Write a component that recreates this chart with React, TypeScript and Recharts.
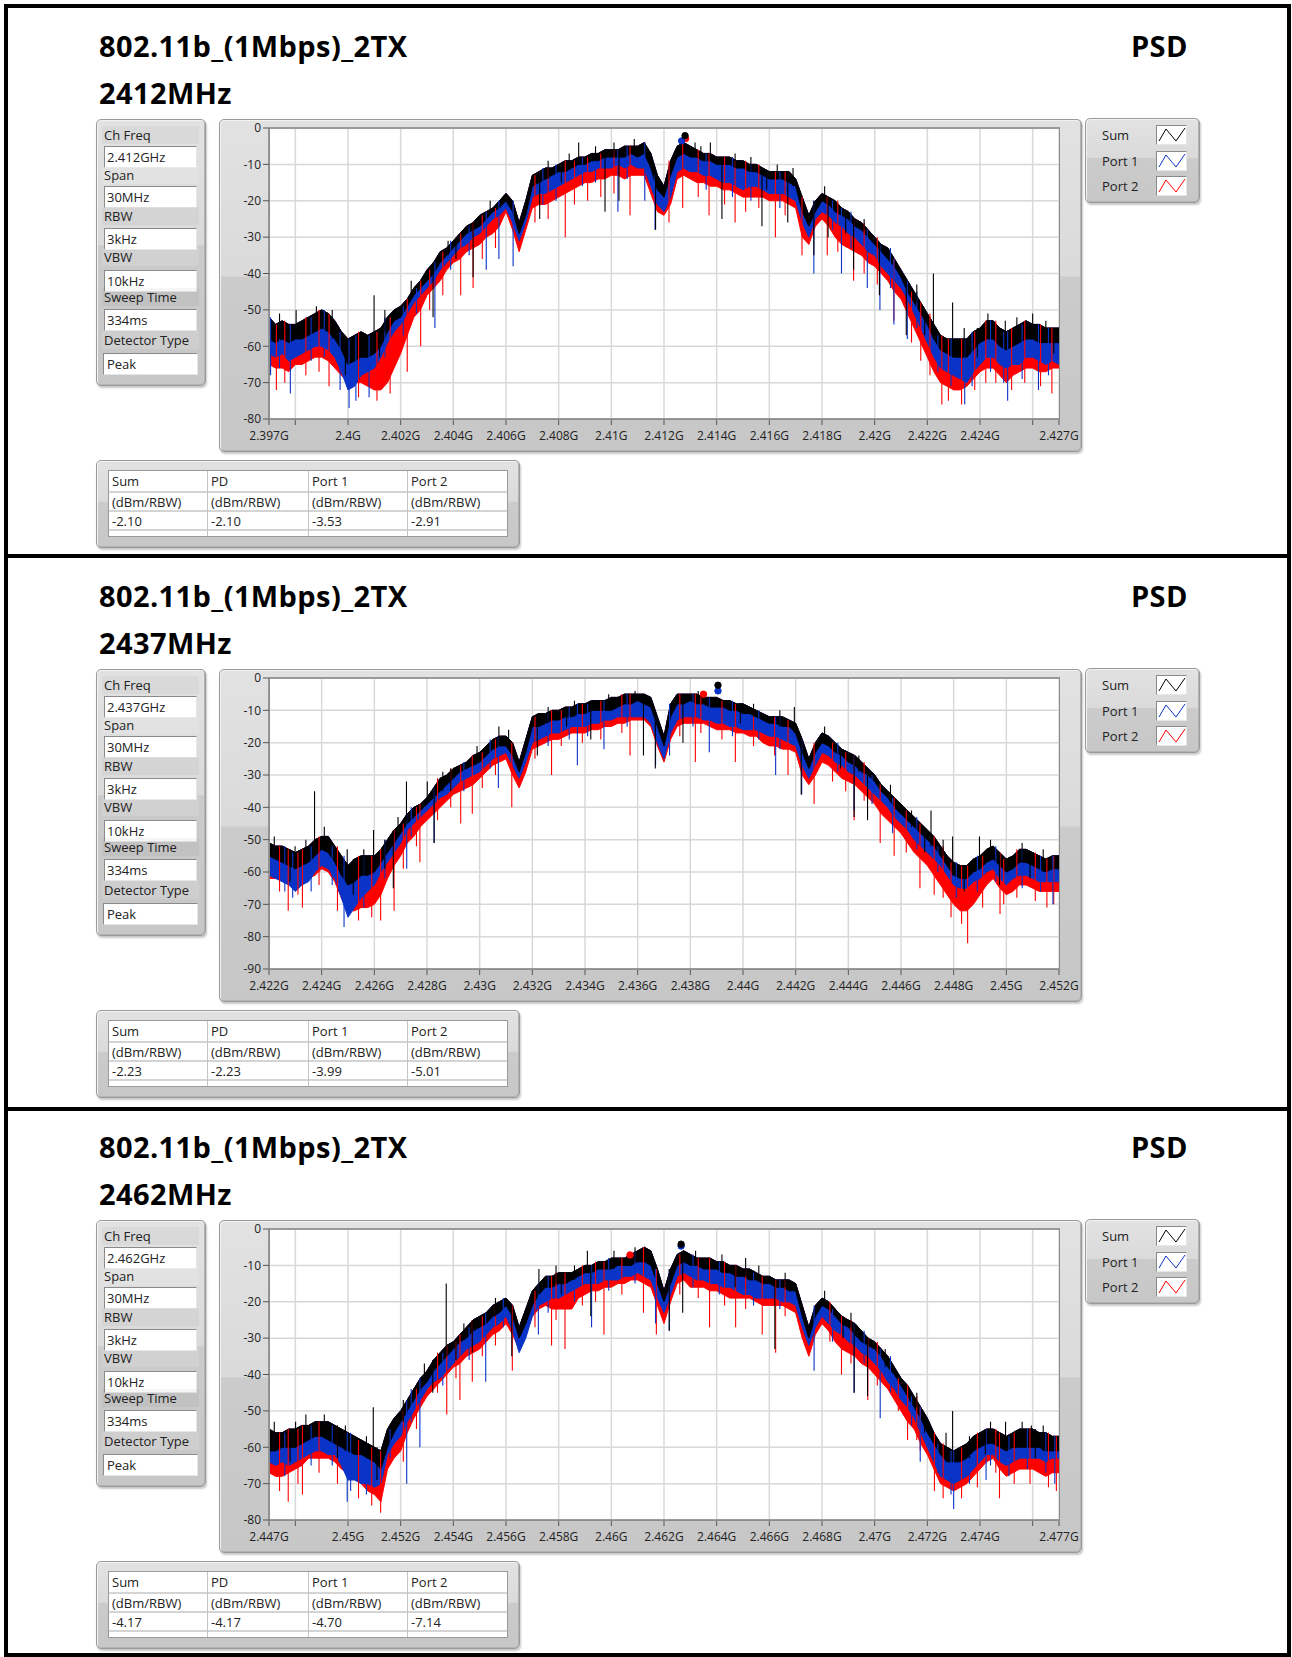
import React from 'react';
import { ComposedChart, Area, Line, XAxis, YAxis, CartesianGrid } from 'recharts';

const FONT = "'Open Sans', 'Noto Sans', 'DejaVu Sans', sans-serif";
const SUM_COLOR = '#000000';
const PORT1_COLOR = '#0a34c8';
const PORT2_COLOR = '#ff0000';

// sweep grid, MHz away from the channel centre
const OFFSET_MHZ = [
  -15, -14.75, -14.5, -14.25, -14, -13.75, -13.5, -13.25, -13, -12.75,
  -12.5, -12.25, -12, -11.75, -11.5, -11.25, -11, -10.75, -10.5, -10.25,
  -10, -9.75, -9.5, -9.25, -9, -8.75, -8.5, -8.25, -8, -7.75,
  -7.5, -7.25, -7, -6.75, -6.5, -6.25, -6, -5.75, -5.5, -5.25,
  -5, -4.75, -4.5, -4.25, -4, -3.75, -3.5, -3.25, -3, -2.75,
  -2.5, -2.25, -2, -1.75, -1.5, -1.25, -1, -0.75, -0.5, -0.25,
  0, 0.25, 0.5, 0.75, 1, 1.25, 1.5, 1.75, 2, 2.25,
  2.5, 2.75, 3, 3.25, 3.5, 3.75, 4, 4.25, 4.5, 4.75,
  5, 5.25, 5.5, 5.75, 6, 6.25, 6.5, 6.75, 7, 7.25,
  7.5, 7.75, 8, 8.25, 8.5, 8.75, 9, 9.25, 9.5, 9.75,
  10, 10.25, 10.5, 10.75, 11, 11.25, 11.5, 11.75, 12, 12.25,
  12.5, 12.75, 13, 13.25, 13.5, 13.75, 14, 14.25, 14.5, 14.75,
  15,
];

// ---- 2412 MHz (dBm/RBW): top / bottom of the Sum trace, bottom of Port 1 and Port 2
const SUM_HI_2412 = [
  -52, -54, -53, -54, -54, -53, -52, -51, -50, -51,
  -53, -56, -58, -57, -56, -57, -56, -55, -52, -50,
  -49, -47, -44, -42, -39, -37, -34, -33, -31, -29,
  -27, -26, -24, -23, -22, -20, -18, -20, -26, -20,
  -13, -12, -11, -11, -10, -9, -9, -8, -8, -7,
  -7, -6, -6, -6, -5, -5, -5, -4, -7, -13,
  -16, -9, -5, -4, -5, -6, -7, -7, -8, -8,
  -8, -9, -9, -10, -10, -11, -12, -12, -12, -12,
  -14, -19, -24, -20, -18, -19, -20, -22, -23, -25,
  -26, -28, -30, -32, -33, -36, -39, -42, -45, -48,
  -51, -54, -57, -58, -58, -58, -58, -56, -55, -53,
  -53, -55, -56, -55, -54, -53, -54, -54, -55, -55,
  -55,
];
const SUM_LO_2412 = [
  -58, -59, -58, -59, -58, -58, -57, -56, -55, -56,
  -58, -61, -65, -64, -63, -63, -62, -60, -56, -53,
  -52, -49, -46, -44, -42, -40, -37, -35, -33, -31,
  -29, -28, -27, -25, -23, -22, -20, -23, -29, -24,
  -16, -15, -14, -13, -12, -12, -11, -10, -10, -9,
  -9, -8, -8, -8, -8, -7, -8, -7, -11, -17,
  -19, -13, -8, -7, -8, -8, -9, -9, -10, -10,
  -10, -11, -11, -12, -12, -13, -14, -14, -14, -15,
  -16, -23, -27, -23, -20, -21, -23, -24, -25, -27,
  -28, -30, -32, -34, -36, -38, -41, -45, -48, -51,
  -54, -58, -61, -62, -63, -63, -63, -61, -59, -58,
  -58, -60, -61, -60, -59, -58, -58, -59, -59, -59,
  -59,
];
const PORT1_LO_2412 = [
  -62, -63, -62, -64, -63, -62, -61, -60, -60, -61,
  -63, -67, -72, -71, -68, -67, -66, -63, -59, -56,
  -54, -51, -48, -46, -44, -42, -39, -37, -35, -33,
  -32, -30, -29, -27, -25, -24, -22, -26, -31, -26,
  -19, -18, -18, -17, -16, -15, -14, -13, -12, -12,
  -11, -11, -11, -10, -11, -10, -11, -11, -16, -21,
  -23, -19, -12, -11, -12, -12, -13, -13, -14, -15,
  -15, -16, -17, -16, -16, -17, -18, -18, -18, -19,
  -20, -26, -30, -25, -23, -24, -26, -27, -29, -30,
  -32, -34, -35, -38, -40, -42, -44, -47, -51, -55,
  -59, -63, -66, -67, -68, -69, -70, -67, -65, -63,
  -63, -65, -66, -65, -65, -63, -63, -64, -65, -64,
  -65,
];
const PORT2_LO_2412 = [
  -65, -66, -66, -67, -65, -65, -64, -63, -63, -64,
  -66, -68, -70, -70, -70, -71, -72, -72, -70, -66,
  -62, -57, -52, -50, -46, -44, -42, -39, -37, -36,
  -34, -33, -32, -30, -29, -27, -23, -28, -34, -28,
  -22, -21, -21, -20, -19, -18, -17, -16, -15, -15,
  -14, -14, -13, -13, -14, -13, -13, -13, -18, -23,
  -24, -21, -14, -13, -14, -15, -15, -16, -16, -17,
  -17, -18, -19, -19, -19, -19, -20, -20, -20, -21,
  -22, -30, -32, -27, -25, -27, -30, -32, -33, -34,
  -35, -37, -38, -40, -42, -45, -47, -51, -55, -59,
  -63, -67, -70, -71, -72, -72, -71, -69, -67, -66,
  -66, -68, -70, -68, -67, -66, -66, -67, -67, -66,
  -66,
];
// single-sweep spikes: [MHz offset, tip dBm]
const SUM_SPIKES_2412 = [
  [-13.97, -50], [-11.01, -46], [-8.77, -52], [-7.25, -41], [-4.72, -25], [-3.24, -4],
  [-2.24, -23], [-1.71, -20], [-1.13, -3], [-0.32, -28], [1.18, -4], [1.76, -4],
  [2.2, -25], [3.72, -27], [4.7, -26], [5.69, -35], [6.23, -30], [7.2, -39],
  [8.18, -46], [9.2, -57], [10.23, -40], [10.96, -48], [12.96, -53], [14.0, -51],
  [-14.6, -51], [-13.2, -49], [-12.6, -50], [-10.6, -50], [-9.6, -42], [-8.2, -31],
  [-6.6, -20], [-4.4, -9], [-3.6, -7], [-2.6, -5], [-1.9, -4], [1.4, -5],
  [2.7, -7], [3.3, -8], [4.3, -10], [4.9, -11], [6.1, -16], [7.6, -25],
  [9.6, -43], [11.4, -55], [12.3, -51], [13.4, -52], [14.5, -53],
  [-12.1, -68], [-10.8, -63], [-7.9, -36], [-3.9, -15], [3.9, -17], [6.9, -29],
  [9.9, -57], [11.9, -63], [14.8, -62],
];
const PORT1_SPIKES_2412 = [
  [-14.94, -68], [-14.19, -73], [-11.96, -77], [-11.2, -74], [-8.7, -55], [-6.75, -39],
  [-6.27, -36], [-5.73, -38], [-1.75, -23], [-0.73, -20], [-0.34, -28], [5.69, -40],
  [6.74, -40], [7.72, -44], [8.2, -50], [8.73, -54], [9.24, -58], [11.42, -76],
  [13.05, -75], [14.22, -72],
  [-14.6, -66], [-13.4, -64], [-12.9, -63], [-12.3, -72], [-11.7, -75], [-10.6, -63],
  [-9.9, -57], [-9.4, -51], [-8.1, -39], [-7.4, -35], [-4.6, -21], [-4.1, -20],
  [-3.1, -16], [-2.6, -15], [-1.4, -14], [1.6, -17], [2.6, -19], [3.3, -20],
  [4.4, -22], [6.4, -28], [7.1, -33], [8.6, -44], [9.6, -55], [10.4, -67],
  [10.9, -71], [11.7, -71], [12.4, -67], [12.9, -70], [13.6, -69], [14.6, -68],
];
const PORT2_SPIKES_2412 = [
  [-14.72, -72], [-12.72, -71], [-9.75, -67], [-9.24, -60], [-7.72, -46], [-7.25, -44],
  [-3.75, -30], [-1.29, -24], [0.19, -26], [0.71, -22], [1.71, -24], [2.7, -26],
  [4.23, -30], [5.24, -35], [6.2, -35], [7.2, -42], [8.73, -53], [9.75, -64],
  [10.55, -76], [12.22, -70], [14.73, -73],
  [-14.4, -70], [-13.6, -68], [-13.1, -67], [-11.6, -74], [-10.9, -75], [-10.4, -73],
  [-8.9, -50], [-8.4, -46], [-6.9, -36], [-6.4, -33], [-4.9, -26], [-4.4, -25],
  [-3.4, -21], [-2.9, -20], [-2.4, -19], [-1.9, -18], [1.3, -19], [2.3, -21],
  [3.1, -23], [3.6, -22], [4.6, -24], [6.6, -34], [7.6, -40], [8.1, -43],
  [9.4, -59], [10.1, -68], [10.8, -75], [11.3, -76], [11.8, -72], [12.6, -70],
  [13.2, -72], [13.7, -70], [14.3, -71],
];
// peak markers: Sum, Port 1, Port 2
const PEAKS_2412 = [[0.8, -2.1], [0.67, -3.53], [0.82, -2.91]];
const READINGS_2412 = [-2.1, -2.1, -3.53, -2.91];

// ---- 2437 MHz
const SUM_HI_2437 = [
  -51, -52, -52, -53, -54, -53, -52, -50, -49, -49,
  -52, -55, -58, -56, -55, -55, -55, -53, -50, -47,
  -45, -42, -40, -39, -37, -34, -31, -30, -28, -27,
  -26, -24, -23, -21, -19, -18, -18, -20, -26, -19,
  -12, -11, -11, -10, -10, -9, -9, -8, -8, -7,
  -7, -7, -6, -6, -5, -5, -5, -5, -6, -12,
  -18, -8, -5, -5, -5, -5, -6, -6, -6, -7,
  -7, -8, -8, -9, -10, -11, -12, -12, -12, -13,
  -14, -19, -25, -20, -17, -18, -20, -22, -23, -24,
  -26, -28, -30, -33, -35, -37, -39, -41, -43, -45,
  -47, -49, -52, -55, -57, -58, -58, -56, -55, -53,
  -52, -54, -56, -55, -53, -53, -54, -55, -56, -55,
  -55,
];
const SUM_LO_2437 = [
  -55, -56, -57, -58, -59, -58, -57, -55, -53, -54,
  -57, -61, -64, -63, -61, -61, -60, -57, -54, -51,
  -48, -45, -43, -41, -39, -37, -35, -33, -31, -29,
  -28, -27, -26, -24, -22, -21, -21, -24, -29, -23,
  -15, -15, -14, -13, -13, -12, -12, -11, -11, -10,
  -10, -10, -10, -9, -8, -8, -7, -8, -9, -15,
  -21, -12, -8, -8, -7, -8, -8, -9, -9, -9,
  -10, -10, -11, -11, -12, -13, -14, -14, -15, -15,
  -17, -23, -28, -23, -20, -21, -23, -24, -26, -27,
  -29, -30, -32, -35, -37, -40, -42, -44, -46, -48,
  -50, -52, -55, -58, -61, -62, -62, -60, -59, -57,
  -56, -58, -60, -59, -57, -57, -58, -59, -60, -59,
  -59,
];
const PORT1_LO_2437 = [
  -61, -62, -63, -64, -66, -64, -63, -60, -58, -59,
  -62, -68, -74, -71, -68, -66, -64, -60, -57, -54,
  -51, -47, -45, -43, -41, -39, -37, -36, -34, -32,
  -31, -30, -29, -27, -25, -24, -23, -27, -31, -26,
  -20, -19, -18, -17, -17, -16, -15, -15, -15, -14,
  -14, -13, -13, -12, -12, -12, -12, -12, -14, -20,
  -25, -17, -13, -12, -12, -12, -13, -13, -14, -14,
  -15, -15, -16, -16, -16, -17, -18, -18, -19, -20,
  -21, -27, -31, -27, -23, -24, -26, -27, -29, -30,
  -32, -34, -36, -38, -40, -43, -45, -47, -50, -52,
  -54, -56, -58, -61, -64, -65, -65, -63, -62, -60,
  -59, -62, -64, -62, -61, -61, -62, -63, -63, -63,
  -63,
];
const PORT2_LO_2437 = [
  -62, -62, -62, -63, -64, -63, -62, -61, -59, -60,
  -63, -68, -72, -72, -71, -71, -70, -67, -62, -58,
  -55, -51, -49, -46, -44, -42, -40, -38, -36, -35,
  -34, -33, -31, -29, -27, -26, -25, -30, -34, -29,
  -22, -21, -20, -19, -19, -18, -17, -17, -17, -16,
  -16, -15, -15, -14, -14, -13, -13, -13, -15, -21,
  -26, -19, -15, -14, -14, -14, -14, -15, -16, -16,
  -16, -17, -17, -18, -18, -20, -21, -21, -22, -22,
  -23, -30, -33, -30, -26, -27, -29, -31, -32, -33,
  -35, -37, -39, -42, -44, -46, -48, -51, -54, -56,
  -58, -61, -64, -67, -70, -72, -72, -70, -67, -64,
  -62, -65, -67, -66, -64, -64, -65, -66, -66, -66,
  -66,
];
const SUM_SPIKES_2437 = [
  [-14.01, -52], [-13.27, -35], [-12.03, -53], [-11.03, -47], [-10.28, -65], [-9.78, -32],
  [-8.99, -32], [-8.73, -51], [-6.27, -15], [-4.81, -24], [-2.78, -19], [-0.78, -24],
  [-0.33, -28], [0.72, -20], [4.95, -9], [5.21, -36], [7.22, -43], [7.73, -44],
  [10.14, -41], [10.96, -49], [11.98, -49], [12.74, -64],
  [-14.8, -49], [-13.6, -50], [-12.9, -46], [-11.4, -53], [-10.1, -43], [-8.4, -29],
  [-7.1, -21], [-5.9, -16], [-4.4, -9], [-3.4, -7], [-2.1, -5], [-1.1, -4],
  [1.3, -4], [3.4, -8], [4.4, -10], [6.1, -15], [7.4, -24], [8.6, -33],
  [9.4, -41], [10.6, -50], [12.4, -50], [13.6, -51], [14.4, -53],
  [-14.2, -63], [-11.8, -67], [-10.6, -59], [-8.1, -35], [-3.7, -15], [2.9, -14],
  [6.7, -28], [9.9, -54], [11.4, -66], [13.9, -62],
];
const PORT1_SPIKES_2437 = [
  [-14.1, -68], [-12.15, -77], [-9.77, -59], [-8.73, -51], [-6.29, -34], [-3.29, -27],
  [-2.28, -22], [-0.32, -27], [0.21, -24], [1.72, -23], [4.24, -30], [5.23, -36],
  [7.22, -41], [8.68, -48], [14.77, -70],
  [-14.4, -66], [-13.4, -66], [-12.6, -64], [-11.4, -71], [-10.6, -62], [-9.6, -49],
  [-7.6, -35], [-6.6, -28], [-4.4, -21], [-3.6, -19], [-2.9, -18], [-1.4, -15],
  [1.1, -15], [2.6, -18], [3.6, -19], [4.4, -22], [6.6, -29], [7.9, -39],
  [9.6, -53], [10.4, -60], [11.1, -68], [11.9, -66], [12.6, -63], [13.6, -65],
  [14.3, -66],
];
const PORT2_SPIKES_2437 = [
  [-14.27, -72], [-13.73, -71], [-10.76, -75], [-10.25, -72], [-9.27, -57], [-7.72, -45],
  [-7.28, -42], [-5.78, -40], [-4.27, -30], [-1.29, -24], [1.19, -26], [2.71, -26],
  [4.71, -30], [5.7, -39], [7.22, -44], [8.21, -51], [8.74, -55], [9.72, -65],
  [10.26, -67], [11.53, -82], [12.76, -73], [14.54, -71],
  [-14.6, -66], [-13.9, -67], [-13.1, -64], [-12.4, -72], [-11.6, -75], [-11.1, -74],
  [-9.9, -59], [-9.4, -52], [-8.6, -44], [-8.1, -40], [-6.9, -34], [-6.4, -30],
  [-4.9, -25], [-3.9, -21], [-3.1, -20], [-2.4, -19], [-1.6, -17], [0.6, -18],
  [1.4, -17], [2.2, -19], [3.4, -21], [4.2, -24], [6.4, -32], [6.9, -35],
  [7.6, -38], [9.2, -54], [10.6, -68], [10.9, -74], [11.3, -76], [12.1, -71],
  [12.9, -70], [13.4, -68], [14.1, -69], [14.8, -70],
];
const PEAKS_2437 = [[2.05, -2.23], [2.05, -3.99], [1.5, -5.01]];
const READINGS_2437 = [-2.23, -2.23, -3.99, -5.01];

// ---- 2462 MHz
const SUM_HI_2462 = [
  -55, -56, -56, -55, -55, -54, -54, -53, -53, -53,
  -54, -55, -56, -57, -58, -59, -60, -61, -55, -52,
  -50, -47, -44, -41, -39, -36, -34, -32, -31, -29,
  -27, -25, -24, -23, -21, -20, -19, -21, -27, -22,
  -17, -15, -13, -13, -12, -12, -12, -11, -10, -10,
  -9, -9, -8, -8, -8, -7, -6, -5, -6, -11,
  -17, -11, -7, -6, -7, -8, -8, -8, -9, -9,
  -10, -10, -11, -11, -12, -13, -13, -14, -14, -14,
  -15, -21, -27, -21, -19, -20, -22, -24, -25, -26,
  -28, -30, -31, -33, -35, -38, -41, -43, -46, -49,
  -52, -56, -59, -60, -61, -60, -59, -57, -56, -55,
  -55, -56, -57, -56, -55, -55, -55, -56, -56, -57,
  -57,
];
const SUM_LO_2462 = [
  -61, -61, -60, -60, -60, -59, -58, -57, -57, -58,
  -59, -60, -61, -62, -62, -63, -64, -66, -60, -56,
  -53, -50, -47, -44, -42, -39, -37, -35, -33, -31,
  -30, -28, -27, -26, -24, -23, -21, -24, -30, -26,
  -21, -18, -16, -16, -15, -15, -14, -13, -12, -12,
  -11, -11, -11, -10, -10, -10, -9, -9, -10, -15,
  -20, -15, -10, -9, -10, -10, -11, -11, -11, -12,
  -12, -13, -13, -14, -14, -15, -15, -16, -16, -17,
  -17, -24, -30, -24, -21, -22, -24, -26, -27, -29,
  -31, -32, -33, -35, -38, -40, -43, -46, -49, -52,
  -56, -59, -62, -64, -64, -64, -63, -61, -60, -59,
  -59, -60, -61, -60, -60, -60, -60, -60, -61, -61,
  -61,
];
const PORT1_LO_2462 = [
  -64, -65, -64, -65, -64, -63, -62, -61, -61, -62,
  -62, -65, -69, -69, -70, -70, -71, -70, -62, -59,
  -57, -53, -50, -47, -44, -42, -41, -39, -37, -35,
  -33, -32, -31, -29, -27, -26, -24, -28, -34, -30,
  -24, -21, -20, -19, -19, -18, -17, -16, -15, -15,
  -15, -14, -14, -14, -13, -13, -12, -13, -14, -19,
  -23, -18, -13, -12, -13, -14, -14, -15, -15, -16,
  -16, -17, -18, -18, -19, -19, -19, -19, -20, -20,
  -21, -27, -32, -27, -24, -26, -28, -29, -31, -32,
  -34, -35, -37, -39, -42, -44, -47, -49, -52, -56,
  -60, -64, -68, -69, -70, -69, -68, -66, -64, -62,
  -62, -64, -65, -64, -63, -63, -63, -63, -64, -63,
  -63,
];
const PORT2_LO_2462 = [
  -67, -68, -68, -67, -66, -65, -63, -63, -63, -63,
  -64, -66, -67, -68, -70, -72, -73, -75, -66, -63,
  -61, -56, -52, -49, -46, -44, -42, -40, -38, -37,
  -35, -34, -33, -31, -29, -28, -26, -29, -33, -29,
  -24, -22, -21, -22, -22, -22, -22, -19, -18, -17,
  -17, -16, -16, -15, -15, -14, -14, -15, -16, -21,
  -26, -20, -15, -14, -16, -16, -16, -17, -17, -18,
  -19, -19, -19, -19, -20, -21, -21, -21, -21, -22,
  -23, -30, -35, -29, -26, -28, -31, -33, -34, -35,
  -37, -38, -40, -42, -44, -47, -50, -53, -55, -59,
  -62, -66, -70, -71, -72, -71, -70, -68, -66, -64,
  -63, -66, -68, -67, -66, -66, -66, -67, -68, -67,
  -67,
];
const SUM_SPIKES_2462 = [
  [-13.99, -53], [-11.04, -49], [-8.78, -45], [-8.27, -15], [-7.28, -34], [-5.78, -35],
  [-4.75, -11], [-2.91, -6], [-2.78, -24], [0.2, -28], [0.71, -23], [3.1, -8],
  [4.21, -33], [7.22, -45], [7.73, -46], [10.71, -56], [10.96, -50], [12.97, -53],
  [13.95, -54],
  [-14.8, -53], [-13.6, -51], [-12.9, -51], [-12.1, -54], [-11.3, -57], [-9.9, -47],
  [-9.1, -37], [-7.6, -26], [-6.4, -19], [-4.1, -10], [-3.4, -10], [-1.9, -6],
  [-1.1, -5], [1.2, -6], [2.2, -7], [3.6, -10], [4.6, -12], [6.1, -17],
  [7.1, -23], [8.4, -33], [9.6, -45], [11.6, -57], [12.4, -53], [13.6, -53],
  [14.4, -54],
  [-14.2, -64], [-12.4, -63], [-10.9, -69], [-7.9, -36], [-3.9, -18], [2.7, -16],
  [6.8, -30], [9.9, -56], [12.2, -62], [14.1, -63],
];
const PORT1_SPIKES_2462 = [
  [-12.03, -75], [-9.77, -70], [-9.27, -60], [-6.77, -42], [-4.77, -29], [-2.75, -27],
  [-0.32, -26], [0.2, -28], [5.7, -39], [7.22, -45], [8.21, -52], [9.73, -64],
  [11.0, -77], [12.23, -69], [14.84, -70],
  [-14.4, -68], [-13.4, -65], [-12.6, -65], [-11.9, -72], [-11.3, -73], [-10.4, -63],
  [-9.6, -53], [-8.4, -43], [-7.4, -36], [-6.1, -27], [-4.4, -23], [-3.4, -20],
  [-2.1, -17], [-1.1, -15], [1.1, -16], [2.1, -18], [3.4, -21], [4.4, -22],
  [6.4, -31], [7.6, -37], [8.6, -45], [9.4, -54], [10.4, -67], [10.9, -73],
  [11.6, -70], [12.4, -65], [13.1, -68], [13.8, -66], [14.5, -67],
];
const PORT2_SPIKES_2462 = [
  [-14.27, -75], [-13.73, -73], [-10.76, -78], [-8.25, -51], [-7.75, -47], [-7.28, -42],
  [-5.76, -39], [-4.27, -32], [-3.76, -33], [-2.28, -29], [-0.78, -23], [-0.29, -29],
  [1.73, -27], [2.72, -27], [3.73, -29], [4.24, -34], [6.74, -40], [7.74, -47],
  [9.25, -58], [9.73, -61], [10.27, -72], [12.74, -74], [14.9, -72],
  [-14.6, -72], [-13.9, -70], [-13.1, -67], [-12.4, -70], [-11.6, -74], [-11.1, -76],
  [-9.9, -64], [-9.4, -55], [-8.6, -45], [-7.9, -41], [-6.9, -35], [-6.4, -32],
  [-4.9, -27], [-4.1, -25], [-3.1, -21], [-2.6, -20], [-1.6, -18], [0.6, -18],
  [1.3, -19], [2.3, -21], [3.1, -22], [4.6, -24], [6.3, -31], [7.1, -37],
  [8.1, -43], [8.9, -50], [9.6, -58], [10.6, -74], [11.3, -74], [11.9, -71],
  [12.6, -67], [13.3, -70], [13.9, -70], [14.6, -71],
];
const PEAKS_2462 = [[0.65, -4.17], [0.65, -4.7], [-1.29, -7.14]];
const READINGS_2462 = [-4.17, -4.17, -4.7, -7.14];

// ---- axes
const Y_TICKS_80 = [0, -10, -20, -30, -40, -50, -60, -70, -80];
const Y_TICKS_90 = [0, -10, -20, -30, -40, -50, -60, -70, -80, -90];
const X_TICKS_2412 = [2397, 2398, 2400, 2402, 2404, 2406, 2408, 2410, 2412, 2414, 2416, 2418, 2420, 2422, 2424, 2426, 2427];
const X_TICKS_2437 = [2422, 2424, 2426, 2428, 2430, 2432, 2434, 2436, 2438, 2440, 2442, 2444, 2446, 2448, 2450, 2452];
const X_TICKS_2462 = [2447, 2448, 2450, 2452, 2454, 2456, 2458, 2460, 2462, 2464, 2466, 2468, 2470, 2472, 2474, 2476, 2477];

const SETTING_LABELS = ['Ch Freq', 'Span', 'RBW', 'VBW', 'Sweep Time', 'Detector Type'];
const TABLE_HEADS = ['Sum', 'PD', 'Port 1', 'Port 2'];
const LEGEND_NAMES = ['Sum', 'Port 1', 'Port 2'];
const LEGEND_COLORS = [SUM_COLOR, PORT1_COLOR, PORT2_COLOR];

const PANELS = [
  {
    center: 2412, chFreq: '2.412GHz', yMin: -80, yTicks: Y_TICKS_80, xTicks: X_TICKS_2412, unlabeled: [2398, 2426],
    sumHi: SUM_HI_2412, sumLo: SUM_LO_2412, port1Lo: PORT1_LO_2412, port2Lo: PORT2_LO_2412,
    sumSpikes: SUM_SPIKES_2412, port1Spikes: PORT1_SPIKES_2412, port2Spikes: PORT2_SPIKES_2412,
    peaks: PEAKS_2412, readings: READINGS_2412,
  },
  {
    center: 2437, chFreq: '2.437GHz', yMin: -90, yTicks: Y_TICKS_90, xTicks: X_TICKS_2437, unlabeled: [],
    sumHi: SUM_HI_2437, sumLo: SUM_LO_2437, port1Lo: PORT1_LO_2437, port2Lo: PORT2_LO_2437,
    sumSpikes: SUM_SPIKES_2437, port1Spikes: PORT1_SPIKES_2437, port2Spikes: PORT2_SPIKES_2437,
    peaks: PEAKS_2437, readings: READINGS_2437,
  },
  {
    center: 2462, chFreq: '2.462GHz', yMin: -80, yTicks: Y_TICKS_80, xTicks: X_TICKS_2462, unlabeled: [2448, 2476],
    sumHi: SUM_HI_2462, sumLo: SUM_LO_2462, port1Lo: PORT1_LO_2462, port2Lo: PORT2_LO_2462,
    sumSpikes: SUM_SPIKES_2462, port1Spikes: PORT1_SPIKES_2462, port2Spikes: PORT2_SPIKES_2462,
    peaks: PEAKS_2462, readings: READINGS_2462,
  },
];
const PANEL_TOPS = [0, 550, 1101];

const nearestIndex = (o: number) => {
  let best = 0;
  OFFSET_MHZ.forEach((v, i) => {
    if (Math.abs(v - o) < Math.abs(OFFSET_MHZ[best] - o)) best = i;
  });
  return best;
};

const box = (left: number, top: number, width: number, height: number): React.CSSProperties => ({
  position: 'absolute', left, top, width, height, boxSizing: 'border-box',
  border: '1px solid #9a9a9a', borderRadius: 5,
  background: 'linear-gradient(#e2e2e2 0%, #dadada 47%, #cbcbcb 47.5%, #c7c7c7 100%)',
  boxShadow: 'inset 1px 1px 0 #f2f2f2, inset -1px -1px 0 #b3b3b3, 1px 2px 2px rgba(0,0,0,0.22)',
});

const text = (left: number, cy: number, size = 13): React.CSSProperties => ({
  position: 'absolute', left, top: cy - 9, height: 18, lineHeight: '18px',
  fontSize: size, color: '#222', whiteSpace: 'nowrap',
});

const bigText = (left: number, top: number): React.CSSProperties => ({
  position: 'absolute', left, top, fontSize: 29, lineHeight: '29px', fontWeight: 700,
  letterSpacing: 0.4, color: '#000', whiteSpace: 'nowrap',
});

const LABEL_Y = [135, 175, 216, 257, 297, 340];
const FIELD_Y = [146, 186, 228, 270, 309, 353];

function PsdPanel({ spec, top }: { spec: any; top: number }) {
  const rows = OFFSET_MHZ.map((o, i) => ({
    f: spec.center + o,
    kHi: spec.sumHi[i],
    kLo: spec.sumLo[i],
    bLo: spec.port1Lo[i],
    rLo: spec.port2Lo[i],
  }));
  // each spike runs from the Sum band edge to its tip, with a gap after it
  const spikes = (list: number[][]) =>
    list.flatMap(([o, tip]) => {
      const i = nearestIndex(o);
      const base = tip > spec.sumHi[i] ? spec.sumLo[i] : spec.sumHi[i];
      const f = spec.center + o;
      return [{ f, v: base }, { f, v: tip }, { f, v: null }];
    });
  const peak = (p: number[]) => [{ f: spec.center + p[0], v: p[1] }];
  const values = [spec.chFreq, '30MHz', '3kHz', '10kHz', '334ms', 'Peak'];
  const fmt = (v: number) => (spec.unlabeled.includes(v) ? '' : `${+(v / 1000).toFixed(3)}G`);
  const tickStyle = { fontSize: 12, fill: '#222', fontFamily: FONT };

  return (
    <div style={{ position: 'absolute', left: 0, top, width: 1292, height: 556 }}>
      <div style={bigText(99, 31)}>802.11b_(1Mbps)_2TX</div>
      <div style={bigText(99, 78)}>{`${spec.center}MHz`}</div>
      <div style={bigText(1131, 31)}>PSD</div>

      {/* settings cluster */}
      <div style={box(96, 119, 110, 267)} />
      {SETTING_LABELS.map((l, i) => (
        <React.Fragment key={l}>
          <div style={{ position: 'absolute', left: 102, top: LABEL_Y[i] - 9, width: 97, height: 18, background: i % 2 === 0 ? 'rgba(0,0,0,0.035)' : 'rgba(255,255,255,0.12)' }} />
          <div style={text(104, LABEL_Y[i])}>{l}</div>
          <div style={{
            position: 'absolute', left: i === 5 ? 103 : 104, top: FIELD_Y[i], width: i === 5 ? 95 : 93, height: 22,
            boxSizing: 'border-box', background: '#fff', borderStyle: 'solid', borderWidth: 1,
            borderColor: '#8a8a8a #e6e6e6 #e6e6e6 #8a8a8a',
          }} />
          <div style={text(107, FIELD_Y[i] + 11)}>{values[i]}</div>
        </React.Fragment>
      ))}

      {/* graph frame */}
      <div style={box(219, 119, 863, 333)} />
      <div style={{ position: 'absolute', left: 219, top: 119 }}>
        <ComposedChart width={863} height={333} data={rows} margin={{ top: 9, right: 23, bottom: 0, left: 0 }}>
          <CartesianGrid stroke="#d8d8d8" strokeWidth={1.5} fill="#ffffff" />
          <XAxis
            type="number" dataKey="f" domain={[spec.center - 15, spec.center + 15]} ticks={spec.xTicks}
            interval={0} tickFormatter={fmt} height={33} tickSize={6} tickMargin={6}
            tick={tickStyle} stroke="#555" allowDataOverflow
          />
          <YAxis
            type="number" domain={[spec.yMin, 0]} ticks={spec.yTicks} interval={0} width={50}
            tickSize={6} tickMargin={2} tick={tickStyle} stroke="#555" allowDataOverflow
          />
          <Area type="linear" dataKey={(d: any) => [d.rLo, d.kHi]} fill={PORT2_COLOR} fillOpacity={1} stroke={PORT2_COLOR} strokeWidth={1} isAnimationActive={false} dot={false} activeDot={false} />
          <Line data={spikes(spec.port2Spikes)} dataKey="v" stroke={PORT2_COLOR} strokeWidth={1.1} dot={false} activeDot={false} isAnimationActive={false} />
          <Area type="linear" dataKey={(d: any) => [d.bLo, d.kHi]} fill={PORT1_COLOR} fillOpacity={1} stroke={PORT1_COLOR} strokeWidth={1} isAnimationActive={false} dot={false} activeDot={false} />
          <Line data={spikes(spec.port1Spikes)} dataKey="v" stroke={PORT1_COLOR} strokeWidth={1.1} dot={false} activeDot={false} isAnimationActive={false} />
          <Area type="linear" dataKey={(d: any) => [d.kLo, d.kHi]} fill={SUM_COLOR} fillOpacity={1} stroke={SUM_COLOR} strokeWidth={1} isAnimationActive={false} dot={false} activeDot={false} />
          <Line data={spikes(spec.sumSpikes)} dataKey="v" stroke={SUM_COLOR} strokeWidth={1.1} dot={false} activeDot={false} isAnimationActive={false} />
          <Line data={peak(spec.peaks[2])} dataKey="v" stroke={PORT2_COLOR} dot={{ r: 3.2, fill: PORT2_COLOR, stroke: PORT2_COLOR }} activeDot={false} isAnimationActive={false} />
          <Line data={peak(spec.peaks[1])} dataKey="v" stroke={PORT1_COLOR} dot={{ r: 3.2, fill: PORT1_COLOR, stroke: PORT1_COLOR }} activeDot={false} isAnimationActive={false} />
          <Line data={peak(spec.peaks[0])} dataKey="v" stroke={SUM_COLOR} dot={{ r: 3.2, fill: SUM_COLOR, stroke: SUM_COLOR }} activeDot={false} isAnimationActive={false} />
        </ComposedChart>
      </div>
      <div style={{ position: 'absolute', left: 269, top: 127, width: 791, height: 293, boxSizing: 'border-box', border: '1px solid #8c8c8c', borderTop: '2px solid #999', pointerEvents: 'none' }} />

      {/* legend */}
      <div style={box(1085, 118, 115, 85)} />
      {LEGEND_NAMES.map((n, i) => (
        <React.Fragment key={n}>
          <div style={text(1102, 135 + i * 25.5)}>{n}</div>
          <div style={{
            position: 'absolute', left: 1156, top: 125 + i * 25.5, width: 31, height: 20, boxSizing: 'border-box',
            background: '#fff', borderStyle: 'solid', borderWidth: 1, borderColor: '#8a8a8a #e6e6e6 #e6e6e6 #8a8a8a',
          }}>
            <svg width={29} height={18} style={{ display: 'block' }}>
              <polyline points="2,15 9,3 19,15 28,2" fill="none" stroke={LEGEND_COLORS[i]} strokeWidth={1} />
            </svg>
          </div>
        </React.Fragment>
      ))}

      {/* readings table */}
      <div style={box(96, 460, 424, 88)} />
      <div style={{ position: 'absolute', left: 108, top: 470, width: 400, height: 67, boxSizing: 'border-box', background: '#fff', border: '1px solid #9a9a9a' }} />
      {[492, 511, 530].map((y) => (
        <div key={y} style={{ position: 'absolute', left: 109, top: y - 1, width: 398, height: 2, background: '#d4d4d4' }} />
      ))}
      {[207, 308, 407].map((x) => (
        <div key={x} style={{ position: 'absolute', left: x, top: 471, width: 1, height: 65, background: '#c4c4c4' }} />
      ))}
      {TABLE_HEADS.map((h, i) => {
        const x = [112, 211, 312, 411][i];
        return (
          <React.Fragment key={h}>
            <div style={text(x, 481)}>{h}</div>
            <div style={text(x, 502)}>(dBm/RBW)</div>
            <div style={text(x, 521)}>{spec.readings[i].toFixed(2)}</div>
          </React.Fragment>
        );
      })}
    </div>
  );
}

export default function App() {
  return (
    <div style={{ position: 'absolute', left: 0, top: 0, width: 1292, height: 1657, background: '#fff', fontFamily: FONT, overflow: 'hidden' }}>
      {PANELS.map((p, i) => (
        <PsdPanel key={p.center} spec={p} top={PANEL_TOPS[i]} />
      ))}
      <div style={{ position: 'absolute', left: 4, top: 4, width: 1287, height: 1653, boxSizing: 'border-box', border: '4px solid #000' }} />
      <div style={{ position: 'absolute', left: 4, top: 554, width: 1287, height: 4, background: '#000' }} />
      <div style={{ position: 'absolute', left: 4, top: 1107, width: 1287, height: 4, background: '#000' }} />
    </div>
  );
}
